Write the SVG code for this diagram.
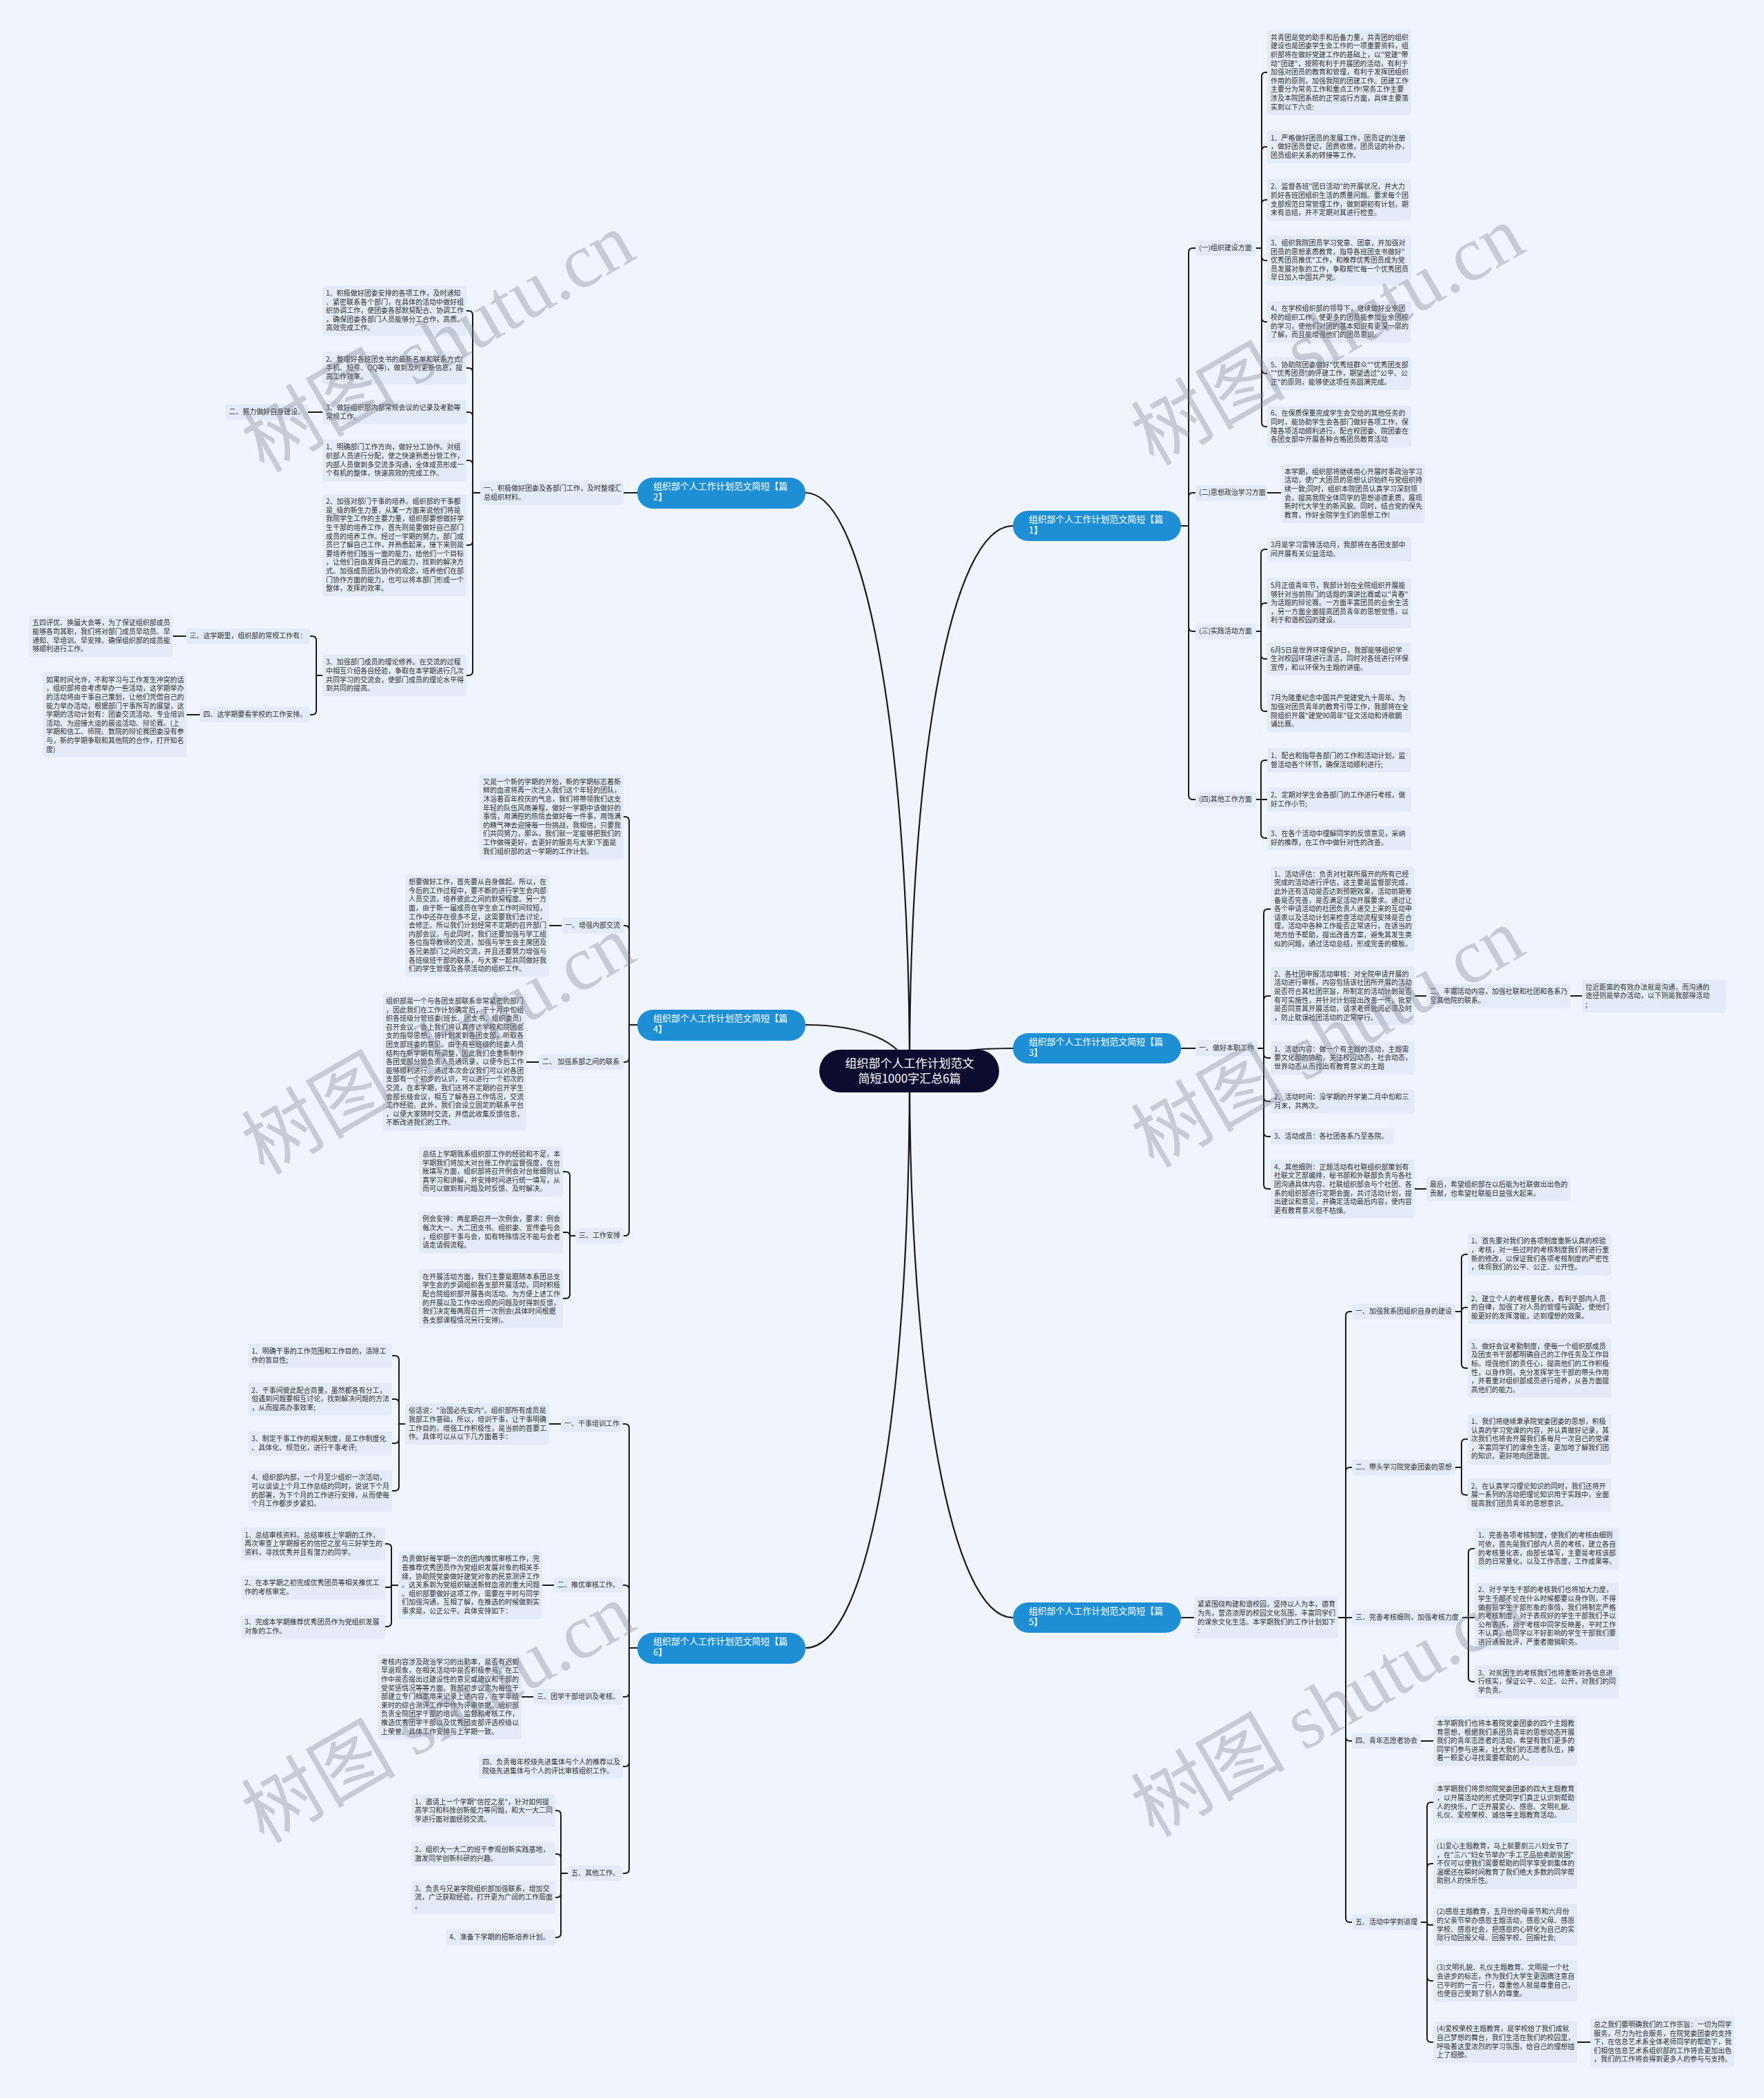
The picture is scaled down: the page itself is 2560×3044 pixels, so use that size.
<svg xmlns="http://www.w3.org/2000/svg" width="2560" height="3044" viewBox="0 0 2560 3044">
<style>
.t{font-family:"Noto Sans CJK SC","Noto Sans",sans-serif;font-size:10px;fill:#333}
.b{fill:#e4ebf8}
.c{fill:none;stroke:#1a1a1a;stroke-width:2}
.m{fill:none;stroke:#1a1a1a;stroke-width:2.2}
.n{fill:#1e8fd5}
.nt{font-family:"Noto Sans CJK SC","Noto Sans",sans-serif;font-size:13px;fill:#fff}
.ct{font-family:"Noto Sans CJK SC","Noto Sans",sans-serif;font-size:17px;fill:#fff;text-anchor:middle}
.w{font-family:"Liberation Serif","Noto Sans CJK SC",serif;font-size:112px;fill:#7d828c;opacity:0.35;text-anchor:middle}
</style>
<rect x="0" y="0" width="2560" height="3044" fill="#eff4fd"/>
<g id="connectors">
<path class="m" d="M1320 1554C1320 1100 1380 763 1470 763M1320 1554C1320 1100 1260 715 1169 715M1320 1554C1330 1530 1400 1521 1470 1521M1320 1554C1310 1510 1250 1487 1169 1487M1320 1554C1320 2000 1380 2347 1470 2347M1320 1554C1320 2050 1260 2391 1169 2391"/>
<path class="c" d="M1714 763H1725V366Q1725 360 1731 360H1735M1714 763H1725V721Q1725 715 1731 715H1735M1714 763H1725V910Q1725 916 1731 916H1735M1714 763H1725V1154Q1725 1160 1731 1160H1735"/>
<path class="c" d="M1823 360H1831V111Q1831 105 1837 105H1839M1823 360H1831V219Q1831 213 1837 213H1839M1823 360H1831V296Q1831 290 1837 290H1839M1823 360H1831V372Q1831 378 1837 378H1839M1823 360H1831V461Q1831 467 1837 467H1839M1823 360H1831V536Q1831 542 1837 542H1839M1823 360H1831V613Q1831 619 1837 619H1839"/>
<path class="c" d="M1839 715H1859"/>
<path class="c" d="M1823 916H1830V803Q1830 797 1836 797H1839M1823 916H1830V881Q1830 875 1836 875H1839M1823 916H1830V950Q1830 956 1836 956H1839M1823 916H1830V1026Q1830 1032 1836 1032H1839"/>
<path class="c" d="M1823 1160H1830V1109Q1830 1103 1836 1103H1839M1823 1160H1839M1823 1160H1830V1210Q1830 1216 1836 1216H1839"/>
<path class="c" d="M1714 1521H1735"/>
<path class="c" d="M1825 1521H1834V1325Q1834 1319 1840 1319H1844M1825 1521H1834V1451Q1834 1445 1840 1445H1844M1825 1521H1834V1529Q1834 1535 1840 1535H1844M1825 1521H1834V1592Q1834 1598 1840 1598H1844M1825 1521H1834V1643Q1834 1649 1840 1649H1844M1825 1521H1834V1719Q1834 1725 1840 1725H1844"/>
<path class="c" d="M2053 1445H2070M2279 1445H2296M2053 1725H2070"/>
<path class="c" d="M1714 2347H1733"/>
<path class="c" d="M1942 2347H1953V1909Q1953 1903 1959 1903H1962M1942 2347H1953V2135Q1953 2129 1959 2129H1962M1942 2347H1962M1942 2347H1953V2520Q1953 2526 1959 2526H1962M1942 2347H1953V2783Q1953 2789 1959 2789H1962"/>
<path class="c" d="M2112 1903H2121V1826Q2121 1820 2127 1820H2130M2112 1903H2121Q2121 1897 2127 1897H2130M2112 1903H2121V1979Q2121 1985 2127 1985H2130"/>
<path class="c" d="M2112 2129H2121V2094Q2121 2088 2127 2088H2130M2112 2129H2121V2163Q2121 2169 2127 2169H2130"/>
<path class="c" d="M2122 2347H2131V2253Q2131 2247 2137 2247H2140M2122 2347H2140M2122 2347H2131V2434Q2131 2440 2137 2440H2140"/>
<path class="c" d="M2062 2526H2080"/>
<path class="c" d="M2062 2789H2071V2621Q2071 2615 2077 2615H2080M2062 2789H2071V2710Q2071 2704 2077 2704H2080M2062 2789H2071Q2071 2793 2075 2793H2080M2062 2789H2071V2868Q2071 2874 2077 2874H2080M2062 2789H2071V2957Q2071 2963 2077 2963H2080"/>
<path class="c" d="M2289 2963H2308"/>
<path class="c" d="M925 715H905"/>
<path class="c" d="M697 715H686V457Q686 451 680 451H677M697 715H686V540Q686 534 680 534H677M697 715H686V604Q686 598 680 598H677M697 715H686V674Q686 668 680 668H677M697 715H686V785Q686 791 680 791H677M697 715H686V974Q686 980 680 980H677"/>
<path class="c" d="M468 598H447"/>
<path class="c" d="M468 980H459V929Q459 923 453 923H450M468 980H459V1031Q459 1037 453 1037H450"/>
<path class="c" d="M270 923H251M290 1037H271"/>
<path class="c" d="M925 1487H913V1191Q913 1185 907 1185H905M925 1487H913V1349Q913 1343 907 1343H905M925 1487H913V1535Q913 1541 907 1541H905M925 1487H913V1787Q913 1793 907 1793H905"/>
<path class="c" d="M815 1343H797M782 1541H764"/>
<path class="c" d="M835 1793H827V1706Q827 1700 821 1700H817M835 1793H827Q827 1788 822 1788H817M835 1793H827V1878Q827 1884 821 1884H817"/>
<path class="c" d="M925 2391H913V2072Q913 2066 907 2066H904M925 2391H913V2306Q913 2300 907 2300H904M925 2391H913V2456Q913 2462 907 2462H904M925 2391H913V2557Q913 2563 907 2563H904M925 2391H913V2712Q913 2718 907 2718H904"/>
<path class="c" d="M814 2066H797"/>
<path class="c" d="M588 2066H579V1973Q579 1967 573 1967H569M588 2066H579V2036Q579 2030 573 2030H569M588 2066H579V2088Q579 2094 573 2094H569M588 2066H579V2157Q579 2163 573 2163H569"/>
<path class="c" d="M804 2300H787"/>
<path class="c" d="M578 2300H568V2246Q568 2240 562 2240H559M578 2300H568Q568 2303 565 2303H559M578 2300H568V2354Q568 2360 562 2360H559"/>
<path class="c" d="M774 2462H757"/>
<path class="c" d="M824 2718H814V2633Q814 2627 808 2627H806M824 2718H814V2696Q814 2690 808 2690H806M824 2718H814V2747Q814 2753 808 2753H806M824 2718H814V2805Q814 2811 808 2811H806"/>
</g>

<g id="center"><rect x="1189" y="1523" width="261" height="62" rx="31" fill="#0c0b30"/><text class="ct" x="1320" y="1549"><tspan x="1320">组织部个人工作计划范文</tspan><tspan x="1320" dy="22">简短1000字汇总6篇</tspan></text></g>

<g id="p1"><rect class="n" x="1470" y="741" width="244" height="44" rx="22"/><text class="nt" x="1493" y="757.5"><tspan x="1493">组织部个人工作计划范文简短【篇</tspan><tspan x="1493" dy="16.5">1】</tspan></text></g>
<g id="p2"><rect class="n" x="925" y="693" width="244" height="45" rx="22"/><text class="nt" x="948" y="709.5"><tspan x="948">组织部个人工作计划范文简短【篇</tspan><tspan x="948" dy="16.5">2】</tspan></text></g>
<g id="p3"><rect class="n" x="1470" y="1499" width="244" height="44" rx="22"/><text class="nt" x="1493" y="1515.5"><tspan x="1493">组织部个人工作计划范文简短【篇</tspan><tspan x="1493" dy="16.5">3】</tspan></text></g>
<g id="p4"><rect class="n" x="925" y="1465" width="244" height="45" rx="22"/><text class="nt" x="948" y="1481.5"><tspan x="948">组织部个人工作计划范文简短【篇</tspan><tspan x="948" dy="16.5">4】</tspan></text></g>
<g id="p5"><rect class="n" x="1470" y="2325" width="244" height="44" rx="22"/><text class="nt" x="1493" y="2341.5"><tspan x="1493">组织部个人工作计划范文简短【篇</tspan><tspan x="1493" dy="16.5">5】</tspan></text></g>
<g id="p6"><rect class="n" x="925" y="2369" width="244" height="45" rx="22"/><text class="nt" x="948" y="2385.5"><tspan x="948">组织部个人工作计划范文简短【篇</tspan><tspan x="948" dy="16.5">6】</tspan></text></g>

<!-- Branch 1 -->
<g id="b1-l1"><rect class="b" x="1735" y="348.7" width="88" height="22.6" rx="4"/><text class="t" x="1740" y="363.2">(一)组织建设方面</text></g>
<g id="b1-l2"><rect class="b" x="1735" y="703.7" width="104" height="22.6" rx="4"/><text class="t" x="1740" y="718.2">(二)思想政治学习方面</text></g>
<g id="b1-l3"><rect class="b" x="1735" y="904.7" width="88" height="22.6" rx="4"/><text class="t" x="1740" y="919.2">(三)实践活动方面</text></g>
<g id="b1-l4"><rect class="b" x="1735" y="1148.7" width="88" height="22.6" rx="4"/><text class="t" x="1740" y="1163.2">(四)其他工作方面</text></g>
<g id="b1-a"><rect class="b" x="1839" y="43.3" width="209" height="123.4" rx="4"/><text class="t" x="1844" y="57.8"><tspan x="1844">共青团是党的助手和后备力量，共青团的组织</tspan><tspan x="1844" dy="12.6">建设也是团委学生会工作的一项重要资料，组</tspan><tspan x="1844" dy="12.6">织部将在做好党建工作的基础上，以"党建"带</tspan><tspan x="1844" dy="12.6">动"团建"，按照有利于开展团的活动，有利于</tspan><tspan x="1844" dy="12.6">加强对团员的教育和管理，有利于发挥团组织</tspan><tspan x="1844" dy="12.6">作用的原则，加强我院的团建工作。团建工作</tspan><tspan x="1844" dy="12.6">主要分为常务工作和重点工作!常务工作主要</tspan><tspan x="1844" dy="12.6">涉及本院团系统的正常运行方面，具体主要落</tspan><tspan x="1844" dy="12.6">实到以下六点:</tspan></text></g>
<g id="b1-b"><rect class="b" x="1839" y="189.1" width="209" height="47.8" rx="4"/><text class="t" x="1844" y="203.6"><tspan x="1844">1、严格做好团员的发展工作，团员证的注册</tspan><tspan x="1844" dy="12.6">，做好团员登记，团费收缴，团员证的补办，</tspan><tspan x="1844" dy="12.6">团员组织关系的转接等工作。</tspan></text></g>
<g id="b1-c"><rect class="b" x="1839" y="259.8" width="209" height="60.4" rx="4"/><text class="t" x="1844" y="274.3"><tspan x="1844">2、监督各班"团日活动"的开展状况，并大力</tspan><tspan x="1844" dy="12.6">抓好各班团组织生活的质量问题。要求每个团</tspan><tspan x="1844" dy="12.6">支部规范日常管理工作，做到期初有计划，期</tspan><tspan x="1844" dy="12.6">末有总结，并不定期对其进行检查。</tspan></text></g>
<g id="b1-d"><rect class="b" x="1839" y="341.5" width="209" height="73" rx="4"/><text class="t" x="1844" y="356"><tspan x="1844">3、组织我院团员学习党章、团章，并加强对</tspan><tspan x="1844" dy="12.6">团员的思想素质教育，指导各班团支书做好"</tspan><tspan x="1844" dy="12.6">优秀团员推优"工作，和推荐优秀团员成为党</tspan><tspan x="1844" dy="12.6">员发展对象的工作，争取帮忙每一个优秀团员</tspan><tspan x="1844" dy="12.6">早日加入中国共产党。</tspan></text></g>
<g id="b1-e"><rect class="b" x="1839" y="436.8" width="209" height="60.4" rx="4"/><text class="t" x="1844" y="451.3"><tspan x="1844">4、在学校组织部的领导下，继续做好业余团</tspan><tspan x="1844" dy="12.6">校的组织工作，使更多的团员能参加业余团校</tspan><tspan x="1844" dy="12.6">的学习，使他们对团的基本知识有更深一层的</tspan><tspan x="1844" dy="12.6">了解，而且能增强他们的团员意识。</tspan></text></g>
<g id="b1-f"><rect class="b" x="1839" y="518.1" width="209" height="47.8" rx="4"/><text class="t" x="1844" y="532.6"><tspan x="1844">5、协助院团委做好"优秀班群众""优秀团支部</tspan><tspan x="1844" dy="12.6">""优秀团员"的评建工作，期望透过"公平、公</tspan><tspan x="1844" dy="12.6">正"的原则，能够使这项任务圆满完成。</tspan></text></g>
<g id="b1-g"><rect class="b" x="1839" y="588.8" width="209" height="60.4" rx="4"/><text class="t" x="1844" y="603.3"><tspan x="1844">6、在保质保量完成学生会交给的其他任务的</tspan><tspan x="1844" dy="12.6">同时，能协助学生会各部门做好各项工作，保</tspan><tspan x="1844" dy="12.6">障各项活动顺利进行。配合校团委、院团委在</tspan><tspan x="1844" dy="12.6">各团支部中开展各种合格团员教育活动</tspan></text></g>
<g id="b1-h"><rect class="b" x="1859" y="673.2" width="209" height="85.6" rx="4"/><text class="t" x="1864" y="687.7"><tspan x="1864">本学期，组织部将继续用心开展时事政治学习</tspan><tspan x="1864" dy="12.6">活动，使广大团员的思想认识始终与党组织持</tspan><tspan x="1864" dy="12.6">续一致;同时，组织本院团员认真学习深刻领</tspan><tspan x="1864" dy="12.6">会，提高我院全体同学的思想道德素质，展现</tspan><tspan x="1864" dy="12.6">新时代大学生的新风貌。同时，结合党的保先</tspan><tspan x="1864" dy="12.6">教育，作好全院学生们的思想工作!</tspan></text></g>
<g id="b1-c1"><rect class="b" x="1839" y="779.4" width="209" height="35.2" rx="4"/><text class="t" x="1844" y="793.9"><tspan x="1844">3月是学习雷锋活动月，我部将在各团支部中</tspan><tspan x="1844" dy="12.6">间开展有关公益活动。</tspan></text></g>
<g id="b1-c2"><rect class="b" x="1839" y="838.5" width="209" height="73" rx="4"/><text class="t" x="1844" y="853"><tspan x="1844">5月正值青年节，我部计划在全院组织开展能</tspan><tspan x="1844" dy="12.6">够针对当前热门的话题的演讲比赛或以"青春"</tspan><tspan x="1844" dy="12.6">为话题的辩论赛。一方面丰富团员的业余生活</tspan><tspan x="1844" dy="12.6">，另一方面全面提高团员青年的思想觉悟，以</tspan><tspan x="1844" dy="12.6">利于和谐校园的建设。</tspan></text></g>
<g id="b1-c3"><rect class="b" x="1839" y="932.1" width="209" height="47.8" rx="4"/><text class="t" x="1844" y="946.6"><tspan x="1844">6月5日是世界环境保护日，我部能够组织学</tspan><tspan x="1844" dy="12.6">生对校园环境进行清洁，同时对各班进行环保</tspan><tspan x="1844" dy="12.6">宣传，和以环保为主题的讲座。</tspan></text></g>
<g id="b1-c4"><rect class="b" x="1839" y="1001.8" width="209" height="60.4" rx="4"/><text class="t" x="1844" y="1016.3"><tspan x="1844">7月为隆重纪念中国共产党建党九十周年。为</tspan><tspan x="1844" dy="12.6">加强对团员青年的教育引导工作，我部将在全</tspan><tspan x="1844" dy="12.6">院组织开展"建党90周年"征文活动和诗歌朗</tspan><tspan x="1844" dy="12.6">诵比赛。</tspan></text></g>
<g id="b1-d1"><rect class="b" x="1839" y="1085.4" width="209" height="35.2" rx="4"/><text class="t" x="1844" y="1099.9"><tspan x="1844">1、配合和指导各部门的工作和活动计划，监</tspan><tspan x="1844" dy="12.6">督活动各个环节，确保活动顺利进行;</tspan></text></g>
<g id="b1-d2"><rect class="b" x="1839" y="1142.4" width="209" height="35.2" rx="4"/><text class="t" x="1844" y="1156.9"><tspan x="1844">2、定期对学生会各部门的工作进行考核，做</tspan><tspan x="1844" dy="12.6">好工作小节;</tspan></text></g>
<g id="b1-d3"><rect class="b" x="1839" y="1198.4" width="209" height="35.2" rx="4"/><text class="t" x="1844" y="1212.9"><tspan x="1844">3、在各个活动中理解同学的反馈意见，采纳</tspan><tspan x="1844" dy="12.6">好的推荐，在工作中做针对性的改善。</tspan></text></g>

<!-- Branch 3 -->
<g id="b3-l1"><rect class="b" x="1735" y="1509.7" width="90" height="22.6" rx="4"/><text class="t" x="1740" y="1524.2">一、做好本职工作</text></g>
<g id="b3-e1"><rect class="b" x="1844" y="1257.3" width="209" height="123.4" rx="4"/><text class="t" x="1849" y="1271.8"><tspan x="1849">1、活动评估：负责对社联所展开的所有已经</tspan><tspan x="1849" dy="12.6">完成的活动进行评估，这主要是监督部完成，</tspan><tspan x="1849" dy="12.6">此外还有活动是否达到预期效果，活动前期筹</tspan><tspan x="1849" dy="12.6">备是否完善，是否满足活动开展要求。通过让</tspan><tspan x="1849" dy="12.6">各个申请活动的社团负责人递交上来的互动申</tspan><tspan x="1849" dy="12.6">请表以及活动计划来检查活动流程安排是否合</tspan><tspan x="1849" dy="12.6">理，活动中各种工作能否正常进行，在适当的</tspan><tspan x="1849" dy="12.6">地方给予帮助，提出改善方案，避免其发生类</tspan><tspan x="1849" dy="12.6">似的问题，通过活动总结，形成完善的模板。</tspan></text></g>
<g id="b3-e2"><rect class="b" x="1844" y="1402.2" width="209" height="85.6" rx="4"/><text class="t" x="1849" y="1416.7"><tspan x="1849">2、各社团申报活动审核：对全院申请开展的</tspan><tspan x="1849" dy="12.6">活动进行审核，内容包括该社团所开展的活动</tspan><tspan x="1849" dy="12.6">是否符合其社团宗旨，所制定的活动计划是否</tspan><tspan x="1849" dy="12.6">有可实施性，并针对计划提出改善一件，批复</tspan><tspan x="1849" dy="12.6">是否同意其开展活动，请求老师批阅必须及时</tspan><tspan x="1849" dy="12.6">，防止耽误社团活动的正常举行。</tspan></text></g>
<g id="b3-e3"><rect class="b" x="1844" y="1511.1" width="209" height="47.8" rx="4"/><text class="t" x="1849" y="1525.6"><tspan x="1849">1、活动内容：做一个有主题的活动，主题需</tspan><tspan x="1849" dy="12.6">要文化部的协助，关注校园动态，社会动态，</tspan><tspan x="1849" dy="12.6">世界动态从而找出有教育意义的主题</tspan></text></g>
<g id="b3-e4"><rect class="b" x="1844" y="1580.4" width="209" height="35.2" rx="4"/><text class="t" x="1849" y="1594.9"><tspan x="1849">2、活动时间：没学期的开学第二月中旬和三</tspan><tspan x="1849" dy="12.6">月末，共两次。</tspan></text></g>
<g id="b3-e5"><rect class="b" x="1844" y="1637.7" width="179" height="22.6" rx="4"/><text class="t" x="1849" y="1652.2">3、活动成员：各社团各系乃至各院。</text></g>
<g id="b3-e6"><rect class="b" x="1844" y="1682.2" width="209" height="85.6" rx="4"/><text class="t" x="1849" y="1696.7"><tspan x="1849">4、其他细则：正题活动有社联组织部策划有</tspan><tspan x="1849" dy="12.6">社联文艺部编排，秘书部和外联部负责与各社</tspan><tspan x="1849" dy="12.6">团沟通具体内容。社联组织部会与个社团、各</tspan><tspan x="1849" dy="12.6">系的组织部进行定期会面，共讨活动计划，提</tspan><tspan x="1849" dy="12.6">出建议和意见，并确定活动最后内容，使内容</tspan><tspan x="1849" dy="12.6">更有教育意义但不枯燥。</tspan></text></g>
<g id="b3-f1"><rect class="b" x="2070" y="1427.4" width="209" height="35.2" rx="4"/><text class="t" x="2075" y="1441.9"><tspan x="2075">二、丰富活动内容，加强社联和社团和各系乃</tspan><tspan x="2075" dy="12.6">至其他院的联系。</tspan></text></g>
<g id="b3-f2"><rect class="b" x="2296" y="1421.1" width="209" height="47.8" rx="4"/><text class="t" x="2301" y="1435.6"><tspan x="2301">拉近距离的有效办法就是沟通，而沟通的</tspan><tspan x="2301" dy="12.6">途径则是举办活动，以下则是我部得活动</tspan><tspan x="2301" dy="12.6">;</tspan></text></g>
<g id="b3-f3"><rect class="b" x="2070" y="1707.4" width="209" height="35.2" rx="4"/><text class="t" x="2075" y="1721.9"><tspan x="2075">最后，希望组织部在以后能为社联做出出色的</tspan><tspan x="2075" dy="12.6">贡献，也希望社联能日益强大起来。</tspan></text></g>

<!-- Branch 5 -->
<g id="b5-intro"><rect class="b" x="1733" y="2316.8" width="209" height="60.4" rx="4"/><text class="t" x="1738" y="2331.3"><tspan x="1738">紧紧围绕构建和谐校园，坚持以人为本，德育</tspan><tspan x="1738" dy="12.6">为先，营造浓厚的校园文化氛围，丰富同学们</tspan><tspan x="1738" dy="12.6">的课余文化生活。本学期我们的工作计划如下</tspan><tspan x="1738" dy="12.6">:</tspan></text></g>
<g id="b5-g1"><rect class="b" x="1962" y="1891.7" width="150" height="22.6" rx="4"/><text class="t" x="1967" y="1906.2">一、加强我系团组织自身的建设</text></g>
<g id="b5-g2"><rect class="b" x="1962" y="2117.7" width="150" height="22.6" rx="4"/><text class="t" x="1967" y="2132.2">二、带头学习院党委团委的思想</text></g>
<g id="b5-g3"><rect class="b" x="1962" y="2335.7" width="160" height="22.6" rx="4"/><text class="t" x="1967" y="2350.2">三、完善考核细则，加强考核力度</text></g>
<g id="b5-g4"><rect class="b" x="1962" y="2514.7" width="100" height="22.6" rx="4"/><text class="t" x="1967" y="2529.2">四、青年志愿者协会</text></g>
<g id="b5-g5"><rect class="b" x="1962" y="2777.7" width="100" height="22.6" rx="4"/><text class="t" x="1967" y="2792.2">五、活动中学到道理</text></g>
<g id="b5-h1"><rect class="b" x="2130" y="1789.8" width="209" height="60.4" rx="4"/><text class="t" x="2135" y="1804.3"><tspan x="2135">1、首先要对我们的各项制度重新认真的校验</tspan><tspan x="2135" dy="12.6">，考核，对一些过时的考核制度我们将进行重</tspan><tspan x="2135" dy="12.6">新的修改，以保证我们各项考核制度的严密性</tspan><tspan x="2135" dy="12.6">，体现我们的公平、公正、公开性。</tspan></text></g>
<g id="b5-h2"><rect class="b" x="2130" y="1873.1" width="209" height="47.8" rx="4"/><text class="t" x="2135" y="1887.6"><tspan x="2135">2、建立个人的考核量化表，有利于部内人员</tspan><tspan x="2135" dy="12.6">的自律，加强了对人员的管理与调配，使他们</tspan><tspan x="2135" dy="12.6">能更好的发挥潜能，达到理想的效果。</tspan></text></g>
<g id="b5-h3"><rect class="b" x="2130" y="1942.2" width="209" height="85.6" rx="4"/><text class="t" x="2135" y="1956.7"><tspan x="2135">3、做好会议考勤制度，使每一个组织部成员</tspan><tspan x="2135" dy="12.6">及团支书干部都明确自己的工作任务及工作目</tspan><tspan x="2135" dy="12.6">标。增强他们的责任心，提高他们的工作积极</tspan><tspan x="2135" dy="12.6">性，以身作则，充分发挥学生干部的带头作用</tspan><tspan x="2135" dy="12.6">，并着重对组织部成员进行培养，从各方面提</tspan><tspan x="2135" dy="12.6">高他们的能力。</tspan></text></g>
<g id="b5-i1"><rect class="b" x="2130" y="2051.5" width="209" height="73" rx="4"/><text class="t" x="2135" y="2066"><tspan x="2135">1、我们将继续秉承院党委团委的思想，积极</tspan><tspan x="2135" dy="12.6">认真的学习党课的内容，并认真做好记录，其</tspan><tspan x="2135" dy="12.6">次我们也将会开展我们系每月一次自己的党课</tspan><tspan x="2135" dy="12.6">，丰富同学们的课余生活，更加地了解我们团</tspan><tspan x="2135" dy="12.6">的知识，更好地向团靠拢。</tspan></text></g>
<g id="b5-i2"><rect class="b" x="2130" y="2145.1" width="209" height="47.8" rx="4"/><text class="t" x="2135" y="2159.6"><tspan x="2135">2、在认真学习理论知识的同时，我们还将开</tspan><tspan x="2135" dy="12.6">展一系列的活动把理论知识用于实践中，全面</tspan><tspan x="2135" dy="12.6">提高我们团员青年的思想意识。</tspan></text></g>
<g id="b5-j1"><rect class="b" x="2140" y="2216.8" width="209" height="60.4" rx="4"/><text class="t" x="2145" y="2231.3"><tspan x="2145">1、完善各项考核制度，使我们的考核由细则</tspan><tspan x="2145" dy="12.6">可依，首先是我们部内人员的考核，建立各自</tspan><tspan x="2145" dy="12.6">的考核量化表，由部长填写，主要是考核该部</tspan><tspan x="2145" dy="12.6">员的日常量化，以及工作态度，工作成果等。</tspan></text></g>
<g id="b5-j2"><rect class="b" x="2140" y="2295.9" width="209" height="98.2" rx="4"/><text class="t" x="2145" y="2310.4"><tspan x="2145">2、对于学生干部的考核我们也将加大力度，</tspan><tspan x="2145" dy="12.6">学生干部不论在什么时候都要以身作则，不得</tspan><tspan x="2145" dy="12.6">做有损学生干部形象的事情，我们将制定严格</tspan><tspan x="2145" dy="12.6">的考核制度，对于表现好的学生干部我们予以</tspan><tspan x="2145" dy="12.6">公布表扬，对于考核中同学反映差，平时工作</tspan><tspan x="2145" dy="12.6">不认真，给同学以不好影响的学生干部我们要</tspan><tspan x="2145" dy="12.6">进行通报批评，严重者撤销职务。</tspan></text></g>
<g id="b5-j3"><rect class="b" x="2140" y="2416.1" width="209" height="47.8" rx="4"/><text class="t" x="2145" y="2430.6"><tspan x="2145">3、对贫困生的考核我们也将重新对各信息进</tspan><tspan x="2145" dy="12.6">行核实，保证公平、公正、公开，对我们的同</tspan><tspan x="2145" dy="12.6">学负责。</tspan></text></g>
<g id="b5-k1"><rect class="b" x="2080" y="2489.5" width="209" height="73" rx="4"/><text class="t" x="2085" y="2504"><tspan x="2085">本学期我们也将本着院党委团委的四个主题教</tspan><tspan x="2085" dy="12.6">育思想，根据我们系团员青年的思想动态开展</tspan><tspan x="2085" dy="12.6">我们的青年志愿者的活动，希望有我们更多的</tspan><tspan x="2085" dy="12.6">同学们参与进来，壮大我们的志愿者队伍，捧</tspan><tspan x="2085" dy="12.6">着一颗爱心寻找需要帮助的人。</tspan></text></g>
<g id="b5-l1"><rect class="b" x="2080" y="2584.8" width="209" height="60.4" rx="4"/><text class="t" x="2085" y="2599.3"><tspan x="2085">本学期我们将贯彻院党委团委的四大主题教育</tspan><tspan x="2085" dy="12.6">，以开展活动的形式使同学们真正认识到帮助</tspan><tspan x="2085" dy="12.6">人的快乐，广泛开展爱心、感恩、文明礼貌、</tspan><tspan x="2085" dy="12.6">礼仪、爱校荣校、诚信等主题教育活动。</tspan></text></g>
<g id="b5-l2"><rect class="b" x="2080" y="2667.5" width="209" height="73" rx="4"/><text class="t" x="2085" y="2682"><tspan x="2085">(1)爱心主题教育，马上就要到三八妇女节了</tspan><tspan x="2085" dy="12.6">，在"三八"妇女节举办"手工艺品拍卖助贫困"</tspan><tspan x="2085" dy="12.6">不仅可以使我们需要帮助的同学享受到集体的</tspan><tspan x="2085" dy="12.6">温暖还在瞬时间教育了我们绝大多数的同学帮</tspan><tspan x="2085" dy="12.6">助别人的快乐性。</tspan></text></g>
<g id="b5-l3"><rect class="b" x="2080" y="2762.8" width="209" height="60.4" rx="4"/><text class="t" x="2085" y="2777.3"><tspan x="2085">(2)感恩主题教育，五月份的母亲节和六月份</tspan><tspan x="2085" dy="12.6">的父亲节举办感恩主题活动，感恩父母、感恩</tspan><tspan x="2085" dy="12.6">学校、感恩社会，把感恩的心转化为自己的实</tspan><tspan x="2085" dy="12.6">际行动回报父母、回报学校、回报社会;</tspan></text></g>
<g id="b5-l4"><rect class="b" x="2080" y="2843.8" width="209" height="60.4" rx="4"/><text class="t" x="2085" y="2858.3"><tspan x="2085">(3)文明礼貌、礼仪主题教育。文明是一个社</tspan><tspan x="2085" dy="12.6">会进步的标志，作为我们大学生更因摘注意自</tspan><tspan x="2085" dy="12.6">己平时的一言一行，尊重他人就是尊重自己，</tspan><tspan x="2085" dy="12.6">也使自己受到了别人的尊重。</tspan></text></g>
<g id="b5-l5"><rect class="b" x="2080" y="2932.8" width="209" height="60.4" rx="4"/><text class="t" x="2085" y="2947.3"><tspan x="2085">(4)爱校荣校主题教育，是学校给了我们成就</tspan><tspan x="2085" dy="12.6">自己梦想的舞台，我们生活在我们的校园里，</tspan><tspan x="2085" dy="12.6">呼吸着这里浓烈的学习氛围，给自己的理想插</tspan><tspan x="2085" dy="12.6">上了翅膀。</tspan></text></g>
<g id="b5-m1"><rect class="b" x="2308" y="2926.5" width="209" height="73" rx="4"/><text class="t" x="2313" y="2941"><tspan x="2313">总之我们要明确我们的工作宗旨：一切为同学</tspan><tspan x="2313" dy="12.6">服务，尽力为社会服务，在院党委团委的支持</tspan><tspan x="2313" dy="12.6">下，在信息艺术系全体老师同学的帮助下，我</tspan><tspan x="2313" dy="12.6">们相信信息艺术系组织部的工作将会更加出色</tspan><tspan x="2313" dy="12.6">，我们的工作将会得到更多人的参与与支持。</tspan></text></g>

<!-- Branch 2 -->
<g id="b2-l1"><rect class="b" x="697" y="697.4" width="208" height="35.2" rx="4"/><text class="t" x="702" y="711.9"><tspan x="702">一、积极做好团委及各部门工作，及时整理汇</tspan><tspan x="702" dy="12.6">总组织材料。</tspan></text></g>
<g id="b2-n1"><rect class="b" x="468" y="414.5" width="209" height="73" rx="4"/><text class="t" x="473" y="429"><tspan x="473">1、积极做好团委安排的各项工作，及时通知</tspan><tspan x="473" dy="12.6">、紧密联系各个部门，在具体的活动中做好组</tspan><tspan x="473" dy="12.6">织协调工作，使团委各部默契配合、协调工作</tspan><tspan x="473" dy="12.6">，确保团委各部门人员能够分工合作，高质、</tspan><tspan x="473" dy="12.6">高效完成工作。</tspan></text></g>
<g id="b2-n2"><rect class="b" x="468" y="510.1" width="209" height="47.8" rx="4"/><text class="t" x="473" y="524.6"><tspan x="473">2、整理好各班团支书的最新名单和联系方式(</tspan><tspan x="473" dy="12.6">手机、短号、QQ等)，做到及时更新信息，提</tspan><tspan x="473" dy="12.6">高工作效率。</tspan></text></g>
<g id="b2-n3"><rect class="b" x="468" y="580.4" width="209" height="35.2" rx="4"/><text class="t" x="473" y="594.9"><tspan x="473">3、做好组织部内部常规会议的记录及考勤等</tspan><tspan x="473" dy="12.6">常规工作。</tspan></text></g>
<g id="b2-n4"><rect class="b" x="468" y="637.8" width="209" height="60.4" rx="4"/><text class="t" x="473" y="652.3"><tspan x="473">1、明确部门工作方向，做好分工协作。对组</tspan><tspan x="473" dy="12.6">织部人员进行分配，使之快速熟悉分管工作，</tspan><tspan x="473" dy="12.6">内部人员做到多交流多沟通，全体成员形成一</tspan><tspan x="473" dy="12.6">个有机的整体，快速高效的完成工作。</tspan></text></g>
<g id="b2-n5"><rect class="b" x="468" y="716.7" width="209" height="148.6" rx="4"/><text class="t" x="473" y="731.2"><tspan x="473">2、加强对部门干事的培养。组织部的干事都</tspan><tspan x="473" dy="12.6">是_级的新生力量，从某一方面来说他们将是</tspan><tspan x="473" dy="12.6">我院学生工作的主要力量，组织部要想做好学</tspan><tspan x="473" dy="12.6">生干部的培养工作，首先则是要做好自己部门</tspan><tspan x="473" dy="12.6">成员的培养工作。经过一学期的努力，部门成</tspan><tspan x="473" dy="12.6">员已了解自己工作，并熟悉起来，接下来则是</tspan><tspan x="473" dy="12.6">要培养他们独当一面的能力，给他们一个目标</tspan><tspan x="473" dy="12.6">，让他们自由发挥自己的能力，找到的解决方</tspan><tspan x="473" dy="12.6">式。加强成员团队协作的观念，培养他们在部</tspan><tspan x="473" dy="12.6">门协作方面的能力，也可以将本部门形成一个</tspan><tspan x="473" dy="12.6">整体，发挥的效率。</tspan></text></g>
<g id="b2-n6"><rect class="b" x="468" y="949.8" width="209" height="60.4" rx="4"/><text class="t" x="473" y="964.3"><tspan x="473">3、加强部门成员的理论修养。在交流的过程</tspan><tspan x="473" dy="12.6">中相互介绍各自经验，争取在本学期进行几次</tspan><tspan x="473" dy="12.6">共同学习的交流会，使部门成员的理论水平得</tspan><tspan x="473" dy="12.6">到共同的提高。</tspan></text></g>
<g id="b2-l2"><rect class="b" x="327" y="586.7" width="120" height="22.6" rx="4"/><text class="t" x="332" y="601.2">二、努力做好自身建设。</text></g>
<g id="b2-l3"><rect class="b" x="270" y="911.7" width="180" height="22.6" rx="4"/><text class="t" x="275" y="926.2">三、这学期里，组织部的常规工作有：</text></g>
<g id="b2-l4"><rect class="b" x="290" y="1025.7" width="160" height="22.6" rx="4"/><text class="t" x="295" y="1040.2">四、这学期要看学校的工作安排。</text></g>
<g id="b2-n7"><rect class="b" x="42" y="892.8" width="209" height="60.4" rx="4"/><text class="t" x="47" y="907.3"><tspan x="47">五四评优、换届大会等，为了保证组织部成员</tspan><tspan x="47" dy="12.6">能够各司其职，我们将对部门成员早动员、早</tspan><tspan x="47" dy="12.6">通知、早培训、早安排。确保组织部的成员能</tspan><tspan x="47" dy="12.6">够顺利进行工作。</tspan></text></g>
<g id="b2-n8"><rect class="b" x="62" y="975.3" width="209" height="123.4" rx="4"/><text class="t" x="67" y="989.8"><tspan x="67">如果时间允许，不和学习与工作发生冲突的话</tspan><tspan x="67" dy="12.6">，组织部将会考虑举办一些活动，这学期举办</tspan><tspan x="67" dy="12.6">的活动将由干事自己策划，让他们凭借自己的</tspan><tspan x="67" dy="12.6">能力举办活动，根据部门干事所写的展望，这</tspan><tspan x="67" dy="12.6">学期的活动计划有：团委交流活动、专业培训</tspan><tspan x="67" dy="12.6">活动、为迎接大运的晨运活动、辩论赛。(上</tspan><tspan x="67" dy="12.6">学期和信工、师院、数院的辩论赛团委没有参</tspan><tspan x="67" dy="12.6">与，新的学期争取和其他院的合作，打开知名</tspan><tspan x="67" dy="12.6">度)</tspan></text></g>

<!-- Branch 4 -->
<g id="b4-o1"><rect class="b" x="696" y="1123.3" width="209" height="123.4" rx="4"/><text class="t" x="701" y="1137.8"><tspan x="701">又是一个新的学期的开始，新的学期标志着新</tspan><tspan x="701" dy="12.6">鲜的血液将再一次注入我们这个年轻的团队，</tspan><tspan x="701" dy="12.6">沐浴着百年校庆的气息，我们将带领我们这支</tspan><tspan x="701" dy="12.6">年轻的队伍风雨兼程，做好一学期中该做好的</tspan><tspan x="701" dy="12.6">事情，用满腔的热情去做好每一件事，用饱满</tspan><tspan x="701" dy="12.6">的精气神去迎接每一份挑战，我相信，只要我</tspan><tspan x="701" dy="12.6">们共同努力，那么，我们就一定能够把我们的</tspan><tspan x="701" dy="12.6">工作做得更好，去更好的服务与大家!下面是</tspan><tspan x="701" dy="12.6">我们组织部的这一学期的工作计划。</tspan></text></g>
<g id="b4-l1"><rect class="b" x="815" y="1331.7" width="90" height="22.6" rx="4"/><text class="t" x="820" y="1346.2">一、增强内部交流</text></g>
<g id="b4-o2"><rect class="b" x="588" y="1268.7" width="209" height="148.6" rx="4"/><text class="t" x="593" y="1283.2"><tspan x="593">想要做好工作，首先要从自身做起。所以，在</tspan><tspan x="593" dy="12.6">今后的工作过程中，要不断的进行学生会内部</tspan><tspan x="593" dy="12.6">人员交流，培养彼此之间的默契程度。另一方</tspan><tspan x="593" dy="12.6">面，由于新一届成员在学生会工作时间较短，</tspan><tspan x="593" dy="12.6">工作中还存在很多不足，这需要我们去讨论，</tspan><tspan x="593" dy="12.6">去修正。所以我们计划经常不定期的召开部门</tspan><tspan x="593" dy="12.6">内部会议。与此同时，我们还要加强与学工组</tspan><tspan x="593" dy="12.6">各位指导教师的交流，加强与学生会主席团及</tspan><tspan x="593" dy="12.6">各兄弟部门之间的交流，并且还要努力增强与</tspan><tspan x="593" dy="12.6">各班级班干部的联系，与大家一起共同做好我</tspan><tspan x="593" dy="12.6">们的学生管理及各项活动的组织工作。</tspan></text></g>
<g id="b4-l2"><rect class="b" x="782" y="1529.7" width="123" height="22.6" rx="4"/><text class="t" x="787" y="1544.2">二、 加强系部之间的联系</text></g>
<g id="b4-o3"><rect class="b" x="555" y="1441.5" width="209" height="199" rx="4"/><text class="t" x="560" y="1456"><tspan x="560">组织部是一个与各团支部联系非常紧密的部门</tspan><tspan x="560" dy="12.6">，因此我们在工作计划确定后，于十月中旬组</tspan><tspan x="560" dy="12.6">织各班级分管班委(班长、团支书、组织委员)</tspan><tspan x="560" dy="12.6">召开会议。会上我们将认真传达学校和院团总</tspan><tspan x="560" dy="12.6">支的指导思想，将计划发到各团支部，听取各</tspan><tspan x="560" dy="12.6">团支部班委的意见。由于有些班级的班委人员</tspan><tspan x="560" dy="12.6">结构在新学期有所调整，因此我们会重新制作</tspan><tspan x="560" dy="12.6">各团支部分管负责人员通讯录，以便今后工作</tspan><tspan x="560" dy="12.6">能够顺利进行。通过本次会议我们可以对各团</tspan><tspan x="560" dy="12.6">支部有一个初步的认识，可以进行一个初次的</tspan><tspan x="560" dy="12.6">交流，在本学期，我们还将不定期的召开学生</tspan><tspan x="560" dy="12.6">会部长级会议，相互了解各自工作情况，交流</tspan><tspan x="560" dy="12.6">工作经验。此外，我们会设立固定的联系平台</tspan><tspan x="560" dy="12.6">，以便大家随时交流，并借此收集反馈信息，</tspan><tspan x="560" dy="12.6">不断改进我们的工作。</tspan></text></g>
<g id="b4-l3"><rect class="b" x="835" y="1781.7" width="70" height="22.6" rx="4"/><text class="t" x="840" y="1796.2">三、工作安排</text></g>
<g id="b4-p1"><rect class="b" x="608" y="1663.5" width="209" height="73" rx="4"/><text class="t" x="613" y="1678"><tspan x="613">总结上学期我系组织部工作的经验和不足，本</tspan><tspan x="613" dy="12.6">学期我们将加大对台账工作的监督强度，在台</tspan><tspan x="613" dy="12.6">账填写方面，组织部将召开例会对台账细则认</tspan><tspan x="613" dy="12.6">真学习和讲解，并安排时间进行统一填写，从</tspan><tspan x="613" dy="12.6">而可以做到有问题及时反馈、及时解决。</tspan></text></g>
<g id="b4-p2"><rect class="b" x="608" y="1757.8" width="209" height="60.4" rx="4"/><text class="t" x="613" y="1772.3"><tspan x="613">例会安排：两星期召开一次例会，要求：例会</tspan><tspan x="613" dy="12.6">每次大一、大二团支书、组织委、宣传委与会</tspan><tspan x="613" dy="12.6">，组织部干事与会，如有特殊情况不能与会者</tspan><tspan x="613" dy="12.6">请走请假流程。</tspan></text></g>
<g id="b4-p3"><rect class="b" x="608" y="1841.2" width="209" height="85.6" rx="4"/><text class="t" x="613" y="1855.7"><tspan x="613">在开展活动方面，我们主要是跟随本系团总支</tspan><tspan x="613" dy="12.6">学生会的步调组织各支部开展活动，同时积极</tspan><tspan x="613" dy="12.6">配合院组织部开展各向活动。为方便上述工作</tspan><tspan x="613" dy="12.6">的开展以及工作中出现的问题及时得到反馈，</tspan><tspan x="613" dy="12.6">我们决定每两周召开一次例会(具体时间根据</tspan><tspan x="613" dy="12.6">各支部课程情况另行安排)。</tspan></text></g>

<!-- Branch 6 -->
<g id="b6-l1"><rect class="b" x="814" y="2054.7" width="90" height="22.6" rx="4"/><text class="t" x="819" y="2069.2">一、干事培训工作</text></g>
<g id="b6-q0"><rect class="b" x="588" y="2035.8" width="209" height="60.4" rx="4"/><text class="t" x="593" y="2050.3"><tspan x="593">俗话说："治国必先安内"。组织部所有成员是</tspan><tspan x="593" dy="12.6">我部工作基础，所以，培训干事，让干事明确</tspan><tspan x="593" dy="12.6">工作目的，增强工作积极性，是当前的首要工</tspan><tspan x="593" dy="12.6">作。具体可以从以下几方面着手：</tspan></text></g>
<g id="b6-q1"><rect class="b" x="360" y="1949.4" width="209" height="35.2" rx="4"/><text class="t" x="365" y="1963.9"><tspan x="365">1、明确干事的工作范围和工作目的，清除工</tspan><tspan x="365" dy="12.6">作的盲目性;</tspan></text></g>
<g id="b6-q2"><rect class="b" x="360" y="2006.1" width="209" height="47.8" rx="4"/><text class="t" x="365" y="2020.6"><tspan x="365">2、干事间彼此配合商量，虽然都各有分工，</tspan><tspan x="365" dy="12.6">但遇到问题要相互讨论，找到解决问题的方法</tspan><tspan x="365" dy="12.6">，从而提高办事效率;</tspan></text></g>
<g id="b6-q3"><rect class="b" x="360" y="2076.4" width="209" height="35.2" rx="4"/><text class="t" x="365" y="2090.9"><tspan x="365">3、制定干事工作的相关制度，是工作制度化</tspan><tspan x="365" dy="12.6">、具体化、规范化，进行干事考评;</tspan></text></g>
<g id="b6-q4"><rect class="b" x="360" y="2132.8" width="209" height="60.4" rx="4"/><text class="t" x="365" y="2147.3"><tspan x="365">4、组织部内部，一个月至少组织一次活动，</tspan><tspan x="365" dy="12.6">可以谈谈上个月工作总结的同时，说说下个月</tspan><tspan x="365" dy="12.6">的部署，为下个月的工作进行安排，从而使每</tspan><tspan x="365" dy="12.6">个月工作都步步紧扣。</tspan></text></g>
<g id="b6-l2"><rect class="b" x="804" y="2288.7" width="100" height="22.6" rx="4"/><text class="t" x="809" y="2303.2">二、推优审核工作。</text></g>
<g id="b6-r0"><rect class="b" x="578" y="2250.9" width="209" height="98.2" rx="4"/><text class="t" x="583" y="2265.4"><tspan x="583">负责做好每学期一次的团内推优审核工作，完</tspan><tspan x="583" dy="12.6">善推荐优秀团员作为党组织发展对象的相关手</tspan><tspan x="583" dy="12.6">续，协助院党委做好建党对象的民意测评工作</tspan><tspan x="583" dy="12.6">。这关系到为党组织输送新鲜血液的重大问题</tspan><tspan x="583" dy="12.6">。组织部要做好这项工作，需要在平时与同学</tspan><tspan x="583" dy="12.6">们加强沟通，互相了解，在推选的时候做到实</tspan><tspan x="583" dy="12.6">事求是，公正公平。具体安排如下：</tspan></text></g>
<g id="b6-r1"><rect class="b" x="350" y="2216.1" width="209" height="47.8" rx="4"/><text class="t" x="355" y="2230.6"><tspan x="355">1、总结审核资料。总结审核上学期的工作，</tspan><tspan x="355" dy="12.6">再次审查上学期报名的信控之星与三好学生的</tspan><tspan x="355" dy="12.6">资料，寻找优秀并且有潜力的同学。</tspan></text></g>
<g id="b6-r2"><rect class="b" x="350" y="2285.4" width="209" height="35.2" rx="4"/><text class="t" x="355" y="2299.9"><tspan x="355">2、在本学期之初完成优秀团员等相关推优工</tspan><tspan x="355" dy="12.6">作的考核审定。</tspan></text></g>
<g id="b6-r3"><rect class="b" x="350" y="2342.4" width="209" height="35.2" rx="4"/><text class="t" x="355" y="2356.9"><tspan x="355">3、完成本学期推荐优秀团员作为党组织发展</tspan><tspan x="355" dy="12.6">对象的工作。</tspan></text></g>
<g id="b6-l3"><rect class="b" x="774" y="2450.7" width="130" height="22.6" rx="4"/><text class="t" x="779" y="2465.2">三、团学干部培训及考核。</text></g>
<g id="b6-s0"><rect class="b" x="548" y="2400.3" width="209" height="123.4" rx="4"/><text class="t" x="553" y="2414.8"><tspan x="553">考核内容涉及政治学习的出勤率，是否有迟到</tspan><tspan x="553" dy="12.6">早退现象，在相关活动中是否积极参与，在工</tspan><tspan x="553" dy="12.6">作中是否提出过建设性的意见或建议和干部的</tspan><tspan x="553" dy="12.6">受奖惩情况等等方面。我部初步议定为每位干</tspan><tspan x="553" dy="12.6">部建立专门档案用来记录上述内容，在学年结</tspan><tspan x="553" dy="12.6">束时的综合测评工作中作为评审依据。组织部</tspan><tspan x="553" dy="12.6">负责全院团学干部的培训、监督和考核工作，</tspan><tspan x="553" dy="12.6">推选优秀团学干部以及优秀团支部评选校级以</tspan><tspan x="553" dy="12.6">上荣誉。具体工作安排与上学期一致。</tspan></text></g>
<g id="b6-l4"><rect class="b" x="695" y="2545.4" width="209" height="35.2" rx="4"/><text class="t" x="700" y="2559.9"><tspan x="700">四、负责每年校级先进集体与个人的推荐以及</tspan><tspan x="700" dy="12.6">院级先进集体与个人的评比审核组织工作。</tspan></text></g>
<g id="b6-l5"><rect class="b" x="824" y="2706.7" width="80" height="22.6" rx="4"/><text class="t" x="829" y="2721.2">五、其他工作。</text></g>
<g id="b6-t1"><rect class="b" x="597" y="2603.1" width="209" height="47.8" rx="4"/><text class="t" x="602" y="2617.6"><tspan x="602">1、邀请上一个学期"信控之星"，针对如何提</tspan><tspan x="602" dy="12.6">高学习和科技创新能力等问题，和大一大二同</tspan><tspan x="602" dy="12.6">学进行面对面经验交流。</tspan></text></g>
<g id="b6-t2"><rect class="b" x="597" y="2672.4" width="209" height="35.2" rx="4"/><text class="t" x="602" y="2686.9"><tspan x="602">2、组织大一大二的班干参观创新实践基地，</tspan><tspan x="602" dy="12.6">激发同学创新科研的兴趣。</tspan></text></g>
<g id="b6-t3"><rect class="b" x="597" y="2729.1" width="209" height="47.8" rx="4"/><text class="t" x="602" y="2743.6"><tspan x="602">3、负责与兄弟学院组织部加强联系，增加交</tspan><tspan x="602" dy="12.6">流，广泛获取经验，打开更为广阔的工作局面</tspan><tspan x="602" dy="12.6">。</tspan></text></g>
<g id="b6-t4"><rect class="b" x="647" y="2799.7" width="159" height="22.6" rx="4"/><text class="t" x="652" y="2814.2">4、准备下学期的招新培养计划。</text></g>

<g id="watermark">
<text class="w" transform="translate(655 530) rotate(-30)">树图 shutu.cn</text>
<text class="w" transform="translate(1946 520) rotate(-30)">树图 shutu.cn</text>
<text class="w" transform="translate(655 1549) rotate(-30)">树图 shutu.cn</text>
<text class="w" transform="translate(1946 1539) rotate(-30)">树图 shutu.cn</text>
<text class="w" transform="translate(655 2519) rotate(-30)">树图 shutu.cn</text>
<text class="w" transform="translate(1946 2510) rotate(-30)">树图 shutu.cn</text>
</g>
</svg>
